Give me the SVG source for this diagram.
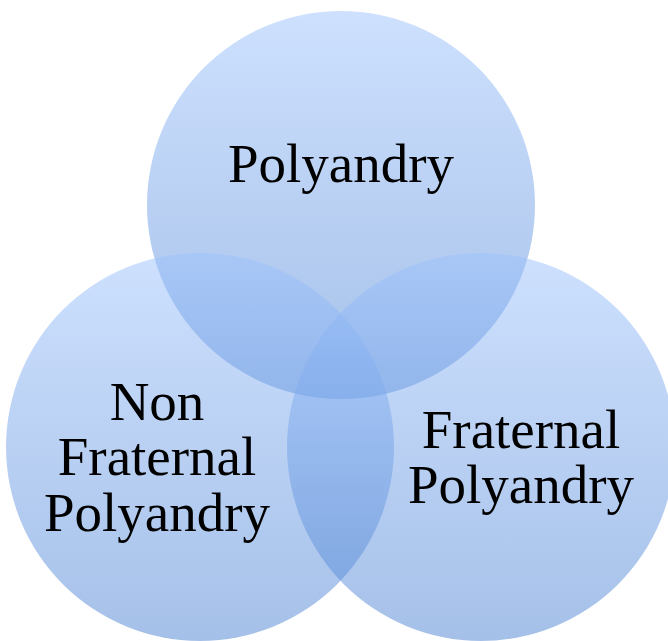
<svg xmlns="http://www.w3.org/2000/svg" width="668" height="641" viewBox="0 0 668 641">
  <style>
    .c { fill: url(#g); fill-opacity: 0.5; }
    .t { font-family: "Liberation Serif", "DejaVu Serif", serif; font-size: 55px; fill: #000; text-anchor: middle; }
  </style>
  <defs>
    <linearGradient id="g" x1="0" y1="0" x2="0" y2="1">
      <stop offset="0" stop-color="#9cc2fd"/>
      <stop offset="1" stop-color="#4c82d2"/>
    </linearGradient>
  </defs>
  <rect width="668" height="641" fill="#ffffff"/>
  <g id="node-polyandry">
    <circle class="c" cx="341" cy="205" r="194"/>
  </g>
  <g id="node-nonfraternal">
    <circle class="c" cx="200" cy="447" r="194"/>
  </g>
  <g id="node-fraternal">
    <circle class="c" cx="481" cy="447" r="194"/>
  </g>
  <g id="labels">
    <text class="t" x="341" y="182">Polyandry</text>
    <text class="t" x="157" y="420">Non</text>
    <text class="t" x="157" y="475">Fraternal</text>
    <text class="t" x="157" y="531">Polyandry</text>
    <text class="t" x="521" y="448">Fraternal</text>
    <text class="t" x="521" y="503">Polyandry</text>
  </g>
  <g id="connectors"></g>
</svg>
